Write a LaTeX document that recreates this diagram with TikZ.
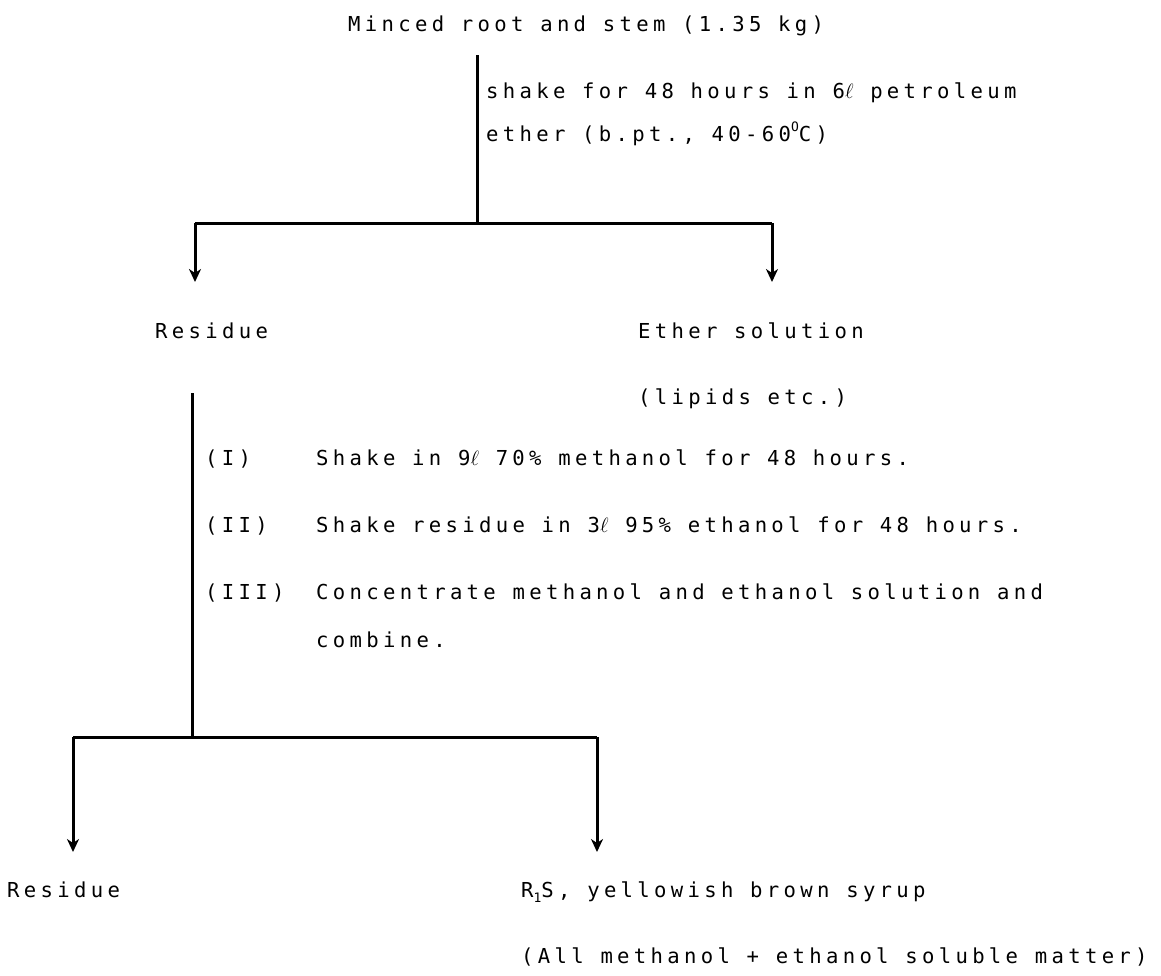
\documentclass[tikz,border=0pt]{standalone}
\usepackage{fontspec}
\setmainfont{DejaVu Sans Mono}[LetterSpace=21]
\usetikzlibrary{arrows.meta}
\newcommand{\litre}{\hbox{$\ell$}}
\newcommand{\degO}{\raisebox{0.85ex}{\fontsize{13}{13}\selectfont O}}
\begin{document}
\begin{tikzpicture}[x=1pt,y=-1pt,
  txt/.style={anchor=base west, inner sep=0pt, font=\fontsize{20.6}{24}\selectfont},
  flow/.style={line width=3pt},
  arr/.style={line width=3pt, -{Stealth[length=13pt,width=12pt,inset=4pt]}}]
\useasboundingbox (0,0) rectangle (1161,975);
% texts
\node[txt] (title) at (348,31) {Minced root and stem (1.35 kg)};
\node[txt] (c1a) at (486,98) {shake for 48 hours in 6\litre{} petroleum};
\node[txt] (c1b) at (486,141) {ether (b.pt., 40-60\degO C)};
\node[txt] (res1) at (155,338) {Residue};
\node[txt] (eth) at (638,338) {Ether solution};
\node[txt] (lip) at (638,404) {(lipids etc.)};
\node[txt] (n1) at (205,465) {(I)};
\node[txt] (s1) at (316,465) {Shake in 9\litre{} 70\% methanol for 48 hours.};
\node[txt] (n2) at (205,532) {(II)};
\node[txt] (s2) at (316,532) {Shake residue in 3\litre{} 95\% ethanol for 48 hours.};
\node[txt] (n3) at (205,599) {(III)};
\node[txt] (s3) at (316,599) {Concentrate methanol and ethanol solution and};
\node[txt] (s3b) at (316,647) {combine.};
\node[txt] (res2) at (7,897) {Residue};
\node[txt] (syr) at (521,897) {R\raisebox{-0.45ex}{\fontsize{13}{13}\selectfont 1}S, yellowish brown syrup};
\node[txt] (all) at (521,963) {(All methanol + ethanol soluble matter)};
% junction coordinates
\coordinate (v1t) at (477,55);
\coordinate (j1) at (477,223);
\coordinate (j1l) at (195,223);
\coordinate (j1r) at (772,223);
\coordinate (a1l) at (195,282);
\coordinate (a1r) at (772,282);
\coordinate (v2t) at (192,393);
\coordinate (j2) at (192,737);
\coordinate (j2l) at (73,737);
\coordinate (j2r) at (597,737);
\coordinate (a2l) at (73,852);
\coordinate (a2r) at (597,852);
% connectors
\draw[flow] (v1t) -- (j1);
\draw[flow] (j1l) -- (j1r);
\draw[arr] (j1l) -- (a1l);
\draw[arr] (j1r) -- (a1r);
\draw[flow] (v2t) -- (j2);
\draw[flow] (j2l) -- (j2r);
\draw[arr] (j2l) -- (a2l);
\draw[arr] (j2r) -- (a2r);
\end{tikzpicture}
\end{document}
